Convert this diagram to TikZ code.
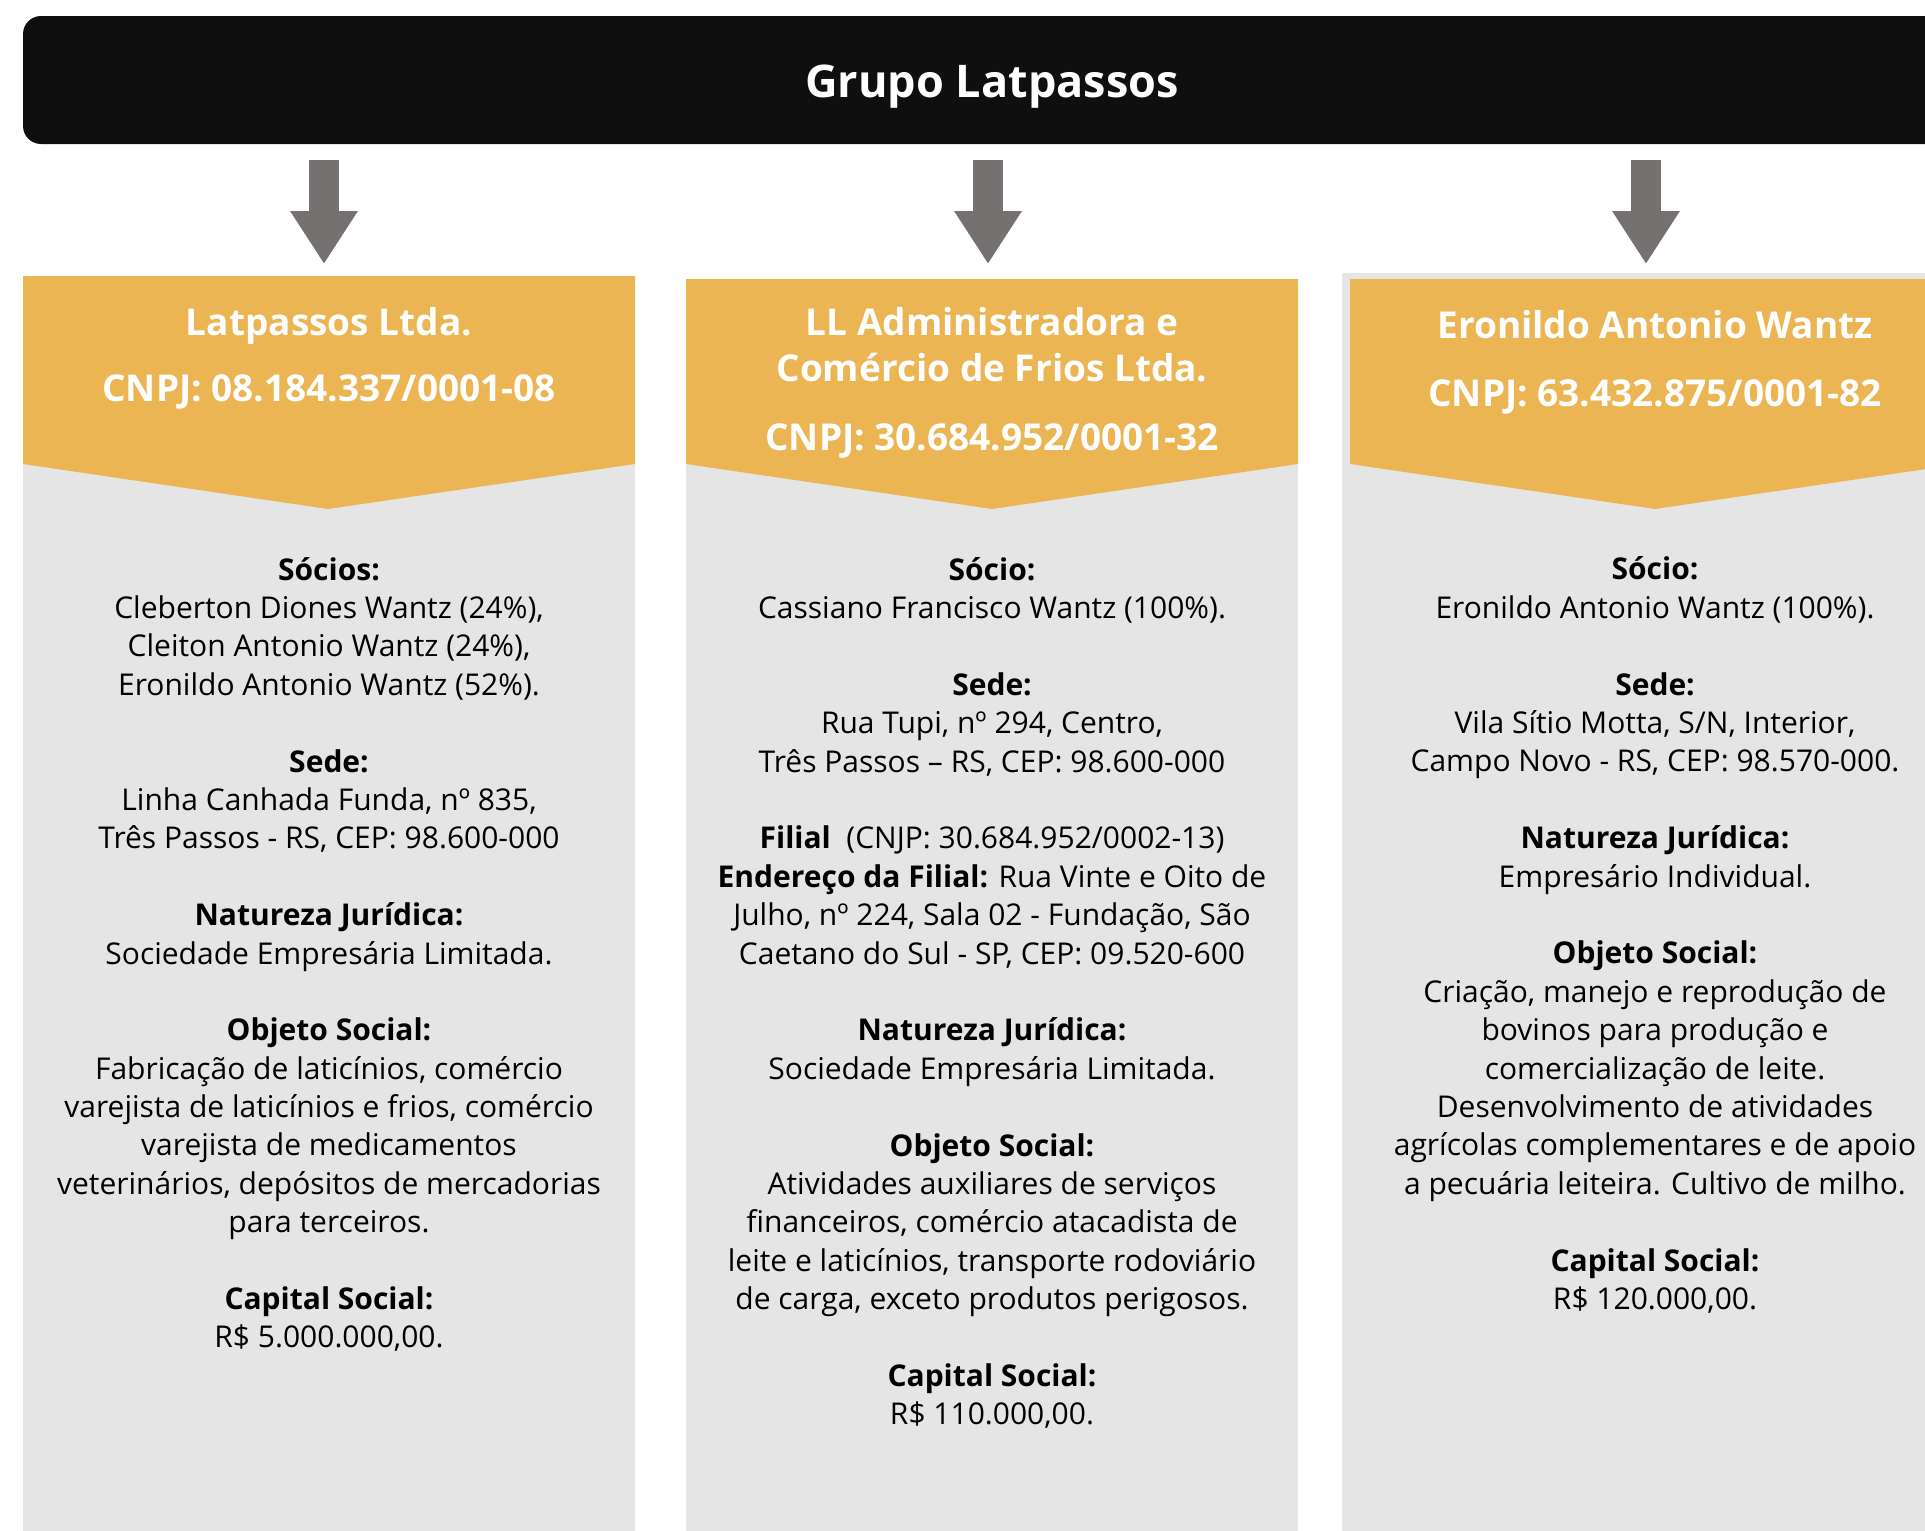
\documentclass[tikz,border=0pt]{standalone}
\usepackage{fontspec}
\setmainfont{Open Sans}
\usetikzlibrary{arrows.meta}
\usetikzlibrary{positioning,calc}
\definecolor{ink}{HTML}{0F0F0F}
\definecolor{gold}{HTML}{EBB553}
\definecolor{paper}{HTML}{E5E5E5}
\definecolor{steel}{HTML}{767171}
\tikzset{
	x=1pt, y=-1pt,
	node distance=30pt,
	every node/.style = {inner sep=0pt, outer sep=0pt},
	box/.style = {rectangle, fill=paper, minimum width=612pt, minimum height=1300pt, anchor=north},
	title/.style = {align=center, text=white, font=\fontsize{37}{46}\selectfont\bfseries},
	info/.style = {align=center, text=black, font=\fontsize{30}{38.4}\selectfont},
	pipe/.style = {draw=steel, line width=30pt, -{Triangle[length=53pt,width=64pt]}}
}

\begin{document}
\begin{tikzpicture}
	\useasboundingbox (0,0) rectangle (1925,1531);
	\node (g) [fill=ink, rounded corners=18pt, minimum width=1938pt, minimum height=128pt, text height=40pt, text depth=5pt, text=white, font=\fontsize{45}{55}\selectfont\bfseries] at (992,80) {Grupo Latpassos};
	\node (a) [box] at (329,276) {};
	\node (b) [box] at (992,279) {};
	\node (c) [box, minimum width=626pt] at (1655,273) {};
	\fill[gold] (a.north west) -- (a.north east) -- ++(0,188) -- ($(a.north)+(-1,233)$) -- ($(a.north west)+(0,188)$) -- cycle;
	\fill[gold] (b.north west) -- (b.north east) -- ++(0,185) -- ($(b.north)+(0,230)$) -- ($(b.north west)+(0,185)$) -- cycle;
	\fill[gold] ($(c.north west)+(8,6)$) -- ($(c.north east)+(-8,6)$) -- ++(0,185) -- ($(c.north)+(0,236)$) -- ($(c.north west)+(8,191)$) -- cycle;
	\draw[pipe] ($(g.south -| a.north)+(-5,16)$) -- ($(a.north)+(-5,-12)$);
	\draw[pipe] ($(g.south -| b.north)+(-4,16)$) -- ($(b.north)+(-4,-15)$);
	\draw[pipe] ($(g.south -| c.north)+(-9,16)$) -- ($(c.north)+(-9,-9)$);
	\node (ta) [title, below=31pt of a.north] {Latpassos Ltda.\\[20pt]CNPJ: 08.184.337/0001-08};
	\node (tb) [title, below=28pt of b.north] {LL Administradora e\\Comércio de Frios Ltda.\\[23pt]CNPJ: 30.684.952/0001-32};
	\node (tc) [title, below=37pt of c.north] {Eronildo Antonio Wantz\\[22pt]CNPJ: 63.432.875/0001-82};
	\node (ia) [info, below=281pt of a.north] {\textbf{Sócios:}\\
		Cleberton Diones Wantz (24\%),\\
		Cleiton Antonio Wantz (24\%),\\
		Eronildo Antonio Wantz (52\%).\\[38.4pt]
		\textbf{Sede:}\\
		Linha Canhada Funda, nº 835,\\
		Três Passos - RS, CEP: 98.600-000\\[38.4pt]
		\textbf{Natureza Jurídica:}\\
		Sociedade Empresária Limitada.\\[38.4pt]
		\textbf{Objeto Social:}\\
		Fabricação de laticínios, comércio\\
		varejista de laticínios e frios, comércio\\
		varejista de medicamentos\\
		veterinários, depósitos de mercadorias\\
		para terceiros.\\[38.4pt]
		\textbf{Capital Social:}\\
		R\$ 5.000.000,00.};
	\node (ib) [info, below=278pt of b.north] {\textbf{Sócio:}\\
		Cassiano Francisco Wantz (100\%).\\[38.4pt]
		\textbf{Sede:}\\
		Rua Tupi, nº 294, Centro,\\
		Três Passos – RS, CEP: 98.600-000\\[38.4pt]
		\textbf{Filial}\ \ (CNJP: 30.684.952/0002-13)\\
		\textbf{Endereço da Filial:} Rua Vinte e Oito de\\
		Julho, nº 224, Sala 02 - Fundação, São\\
		Caetano do Sul - SP, CEP: 09.520-600\\[38.4pt]
		\textbf{Natureza Jurídica:}\\
		Sociedade Empresária Limitada.\\[38.4pt]
		\textbf{Objeto Social:}\\
		Atividades auxiliares de serviços\\
		financeiros, comércio atacadista de\\
		leite e laticínios, transporte rodoviário\\
		de carga, exceto produtos perigosos.\\[38.4pt]
		\textbf{Capital Social:}\\
		R\$ 110.000,00.};
	\node (ic) [info, below=284pt of c.north] {\textbf{Sócio:}\\
		Eronildo Antonio Wantz (100\%).\\[38.4pt]
		\textbf{Sede:}\\
		Vila Sítio Motta, S/N, Interior,\\
		Campo Novo - RS, CEP: 98.570-000.\\[38.4pt]
		\textbf{Natureza Jurídica:}\\
		Empresário Individual.\\[38.4pt]
		\textbf{Objeto Social:}\\
		Criação, manejo e reprodução de\\
		bovinos para produção e\\
		comercialização de leite.\\
		Desenvolvimento de atividades\\
		agrícolas complementares e de apoio\\
		a pecuária leiteira. Cultivo de milho.\\[38.4pt]
		\textbf{Capital Social:}\\
		R\$ 120.000,00.};
\end{tikzpicture}
\end{document}
